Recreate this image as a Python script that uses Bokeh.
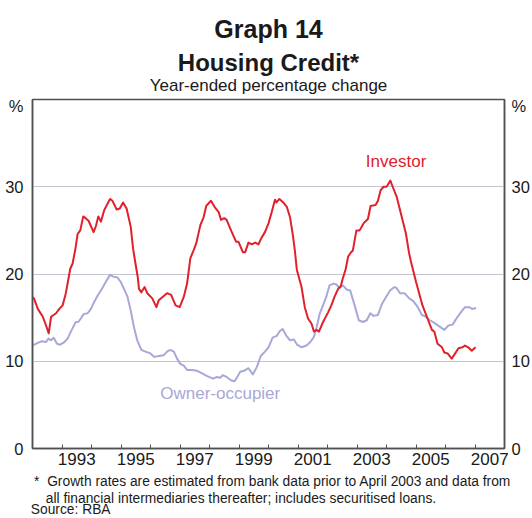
from bokeh.plotting import figure
from bokeh.models import FixedTicker, LinearAxis, Label, Range1d, Title
from bokeh.embed import file_html
from bokeh.resources import INLINE

# ---------------- data ----------------
investor_t = [1992.00, 1992.05, 1992.18, 1992.35, 1992.46, 1992.55, 1992.63, 1992.80, 1992.91,
              1993.02, 1993.13, 1993.28, 1993.36, 1993.46, 1993.53, 1993.62, 1993.72, 1993.80,
              1993.90, 1994.07, 1994.15, 1994.23, 1994.32, 1994.43, 1994.55, 1994.63, 1994.71,
              1994.85, 1994.96, 1995.07, 1995.19, 1995.33, 1995.41, 1995.50, 1995.57, 1995.61,
              1995.69, 1995.80, 1995.89, 1996.06, 1996.20, 1996.28, 1996.42, 1996.56, 1996.70,
              1996.85, 1996.99, 1997.13, 1997.24, 1997.35, 1997.46, 1997.55, 1997.69, 1997.80,
              1997.89, 1998.05, 1998.19, 1998.31, 1998.39, 1998.50, 1998.58, 1998.73, 1998.90,
              1998.98, 1999.13, 1999.21, 1999.32, 1999.43, 1999.55, 1999.66, 1999.74, 1999.88,
              2000.00, 2000.11, 2000.22, 2000.27, 2000.37, 2000.50, 2000.62, 2000.73, 2000.82,
              2000.90, 2000.96, 2001.12, 2001.23, 2001.34, 2001.46, 2001.54, 2001.63, 2001.71,
              2001.85, 2002.02, 2002.13, 2002.24, 2002.36, 2002.45, 2002.52, 2002.62, 2002.70,
              2002.80, 2002.86, 2002.98, 2003.09, 2003.22, 2003.37, 2003.46, 2003.63, 2003.71,
              2003.80, 2003.90, 2004.00, 2004.04, 2004.13, 2004.21, 2004.35, 2004.49, 2004.66,
              2004.76, 2004.83, 2005.00, 2005.22, 2005.39, 2005.54, 2005.62, 2005.73, 2005.88,
              2005.96, 2006.07, 2006.21, 2006.29, 2006.44, 2006.58, 2006.66, 2006.77, 2006.89,
              2007.02]
investor_v = [17.3, 17.2, 16.0, 15.1, 14.1, 13.2, 15.1, 15.5, 16.0,
              16.4, 17.8, 20.6, 21.2, 23.0, 24.6, 25.0, 26.6, 26.4,
              26.1, 24.8, 25.5, 26.6, 26.0, 27.3, 28.1, 28.6, 28.4,
              27.4, 27.5, 28.2, 27.5, 25.4, 22.9, 21.0, 19.6, 18.3,
              17.9, 18.5, 17.8, 17.2, 16.2, 17.0, 17.4, 17.8, 17.6,
              16.4, 16.2, 17.4, 18.9, 21.8, 22.7, 23.5, 25.6, 26.5,
              27.8, 28.4, 27.6, 27.1, 26.2, 26.4, 26.2, 25.0, 23.7,
              23.7, 22.5, 22.5, 23.6, 23.4, 23.6, 23.4, 24.0, 24.8,
              25.8, 27.1, 28.5, 28.2, 28.6, 28.2, 27.7, 26.5, 24.6,
              22.5, 20.5, 18.5, 16.2, 14.9, 14.3, 13.4, 13.6, 13.4,
              14.5, 15.6, 16.4, 17.4, 18.3, 18.6, 19.5, 20.6, 22.0,
              22.5, 22.7, 25.0, 25.0, 25.8, 26.3, 27.8, 27.9, 28.4,
              29.6, 30.0, 30.0, 30.2, 30.7, 30.0, 28.8, 26.9, 24.6,
              22.5, 21.4, 19.1, 16.4, 14.9, 13.6, 13.4, 12.0, 11.6,
              11.0, 10.9, 10.3, 10.7, 11.5, 11.6, 11.8, 11.6, 11.2,
              11.6]

owner_t = [1992.00, 1992.18, 1992.32, 1992.46, 1992.54, 1992.63, 1992.72, 1992.83, 1992.94,
           1993.08, 1993.19, 1993.30, 1993.39, 1993.47, 1993.55, 1993.64, 1993.73, 1993.87,
           1993.98, 1994.09, 1994.22, 1994.37, 1994.52, 1994.63, 1994.74, 1994.88, 1994.99,
           1995.10, 1995.22, 1995.33, 1995.44, 1995.55, 1995.69, 1995.83, 1996.00, 1996.13,
           1996.28, 1996.45, 1996.56, 1996.67, 1996.79, 1996.90, 1997.01, 1997.13, 1997.24,
           1997.41, 1997.58, 1997.75, 1997.92, 1998.12, 1998.25, 1998.36, 1998.45, 1998.58,
           1998.74, 1998.85, 1998.96, 1999.04, 1999.17, 1999.32, 1999.47, 1999.60, 1999.74,
           1999.88, 2000.00, 2000.14, 2000.28, 2000.37, 2000.48, 2000.59, 2000.73, 2000.86,
           2000.97, 2001.12, 2001.29, 2001.42, 2001.54, 2001.63, 2001.74, 2001.87, 2001.96,
           2002.07, 2002.21, 2002.30, 2002.41, 2002.52, 2002.66, 2002.77, 2002.92, 2003.06,
           2003.20, 2003.33, 2003.45, 2003.56, 2003.71, 2003.85, 2003.99, 2004.12, 2004.27,
           2004.34, 2004.46, 2004.61, 2004.77, 2004.91, 2005.06, 2005.20, 2005.34, 2005.47,
           2005.62, 2005.79, 2005.96, 2006.10, 2006.24, 2006.37, 2006.52, 2006.66, 2006.80,
           2006.91, 2007.04]
owner_v = [11.8, 12.1, 12.3, 12.2, 12.6, 12.4, 12.7, 12.0, 11.9,
           12.2, 12.6, 13.4, 14.0, 14.5, 14.5, 14.9, 15.4, 15.5,
           16.0, 16.8, 17.6, 18.4, 19.3, 19.9, 19.7, 19.6, 19.1,
           18.3, 17.4, 15.8, 13.9, 12.4, 11.3, 11.1, 10.9, 10.5,
           10.6, 10.7, 11.1, 11.3, 11.1, 10.3, 9.7, 9.5, 9.0,
           9.0, 8.9, 8.6, 8.3, 8.0, 8.2, 8.1, 8.4, 8.2,
           7.8, 7.7, 8.3, 8.8, 8.9, 9.2, 8.5, 9.3, 10.6,
           11.1, 11.6, 12.7, 12.9, 13.4, 13.7, 13.0, 12.4, 12.5,
           11.9, 11.6, 11.8, 12.2, 12.8, 13.9, 15.5, 16.6, 17.4,
           18.7, 18.9, 18.8, 18.4, 18.7, 18.2, 18.1, 16.4, 14.7,
           14.5, 14.7, 15.5, 15.2, 15.3, 16.6, 17.4, 18.1, 18.5,
           18.4, 17.8, 17.8, 17.2, 16.9, 16.2, 15.3, 15.1, 14.7,
           14.4, 14.0, 13.6, 14.1, 14.2, 14.9, 15.6, 16.2, 16.2,
           16.0, 16.1]

year_ticks = list(range(1993, 2008))                    # tick marks at year starts
year_label_pos = [1993.5, 1995.5, 1997.5, 1999.5, 2001.5, 2003.5, 2005.5, 2007.5]
year_labels = ["1993", "1995", "1997", "1999", "2001", "2003", "2005", "2007"]
y_ticks = [0, 10, 20, 30]
y_labels = ["0", "10", "20", "30"]
unit_pos = 39.2
unit_label = "%"
y_grid = [10, 20, 30]

title_text = "Graph 14"
subtitle_text = "Housing Credit*"
units_text = "Year-ended percentage change"
foot_lines = ["*\u00a0\u00a0Growth rates are estimated from bank data prior to April 2003 and data from",
              "all financial intermediaries thereafter; includes securitised loans."]
source_text = "Source: RBA"

# ---------------- styling ----------------
FONT = "Liberation Sans"
RED = "#e0202a"
LAV = "#a8a8d8"
AXIS = "#505050"
GRID = "#c3c6d0"
TXT = "#1a1a1a"

W, H = 532, 518
ML, MR, MT, MB = 32, 27, 99, 70

p = figure(width=W, height=H, x_range=Range1d(1992, 2008), y_range=Range1d(0, 40),
           output_backend="svg", toolbar_location=None,
           min_border_left=ML, min_border_right=MR, min_border_top=MT, min_border_bottom=MB)
p.background_fill_color = "white"
p.border_fill_color = "white"
p.outline_line_color = AXIS
p.outline_line_width = 1.5

# grid
p.xgrid.visible = False
p.ygrid.ticker = FixedTicker(ticks=y_grid)
p.ygrid.grid_line_color = GRID
p.ygrid.grid_line_width = 1

# bottom axis: minor ticks at year starts, labels mid-year
xa = p.xaxis[0]
xa.ticker = FixedTicker(ticks=year_label_pos, minor_ticks=year_ticks)
xa.major_label_overrides = {pos: lab for pos, lab in zip(year_label_pos, year_labels)}
xa.major_tick_in = 0
xa.major_tick_out = 0
xa.minor_tick_in = 4
xa.minor_tick_out = 0
xa.minor_tick_line_color = AXIS
xa.minor_tick_line_width = 1
xa.axis_line_color = AXIS
xa.axis_line_width = 1.5
xa.major_label_text_font = FONT
xa.major_label_text_font_size = "17px"
xa.major_label_text_color = TXT
xa.major_label_standoff = 4

def style_y(ax, standoff):
    ax.ticker = FixedTicker(ticks=y_ticks + [unit_pos])
    overrides = {t: s for t, s in zip(y_ticks, y_labels)}
    overrides[unit_pos] = unit_label
    ax.major_label_overrides = overrides
    ax.major_tick_in = 0
    ax.major_tick_out = 0
    ax.minor_tick_in = 0
    ax.minor_tick_out = 0
    ax.axis_line_color = AXIS
    ax.axis_line_width = 1.5
    ax.major_label_text_font = FONT
    ax.major_label_text_font_size = "16.5px"
    ax.major_label_text_color = TXT
    ax.major_label_standoff = standoff

style_y(p.yaxis[0], 9)
ra = LinearAxis()
style_y(ra, 7)
p.add_layout(ra, "right")

# lines
p.line(owner_t, owner_v, line_color=LAV, line_width=2, line_join="round")
p.line(investor_t, investor_v, line_color=RED, line_width=2, line_join="round")

# series labels
p.add_layout(Label(x=2003.3, y=32.9, text="Investor", text_font=FONT, text_font_size="17px",
                   text_color=RED, text_baseline="middle", text_align="left"))
p.add_layout(Label(x=1996.33, y=6.35, text="Owner-occupier", text_font=FONT, text_font_size="17px",
                   text_color=LAV, text_baseline="middle", text_align="left"))

# titles above (first added is closest to the frame)
p.add_layout(Title(text=units_text, text_font=FONT, text_font_size="17px", text_font_style="normal",
                   text_color=TXT, align="center", standoff=10), "above")
p.add_layout(Title(text=subtitle_text, text_font=FONT, text_font_size="24px", text_font_style="bold",
                   text_color=TXT, align="center", standoff=-14.6), "above")
p.add_layout(Title(text=title_text, text_font=FONT, text_font_size="25px", text_font_style="bold",
                   text_color=TXT, align="center", standoff=23.6), "above")

# footnotes below (first added is closest to the axis)
p.add_layout(Title(text=foot_lines[0], text_font=FONT, text_font_size="13.8px", text_font_style="normal",
                   text_color=TXT, align="left", offset=1.6, standoff=9.4), "below")
p.add_layout(Title(text=foot_lines[1], text_font=FONT, text_font_size="13.8px", text_font_style="normal",
                   text_color=TXT, align="left", offset=13.3, standoff=-8.8), "below")
p.add_layout(Title(text=source_text, text_font=FONT, text_font_size="13.8px", text_font_style="normal",
                   text_color=TXT, align="left", offset=-1.7, standoff=-3.4), "below")

open("out.html", "w").write(file_html(p, INLINE))
